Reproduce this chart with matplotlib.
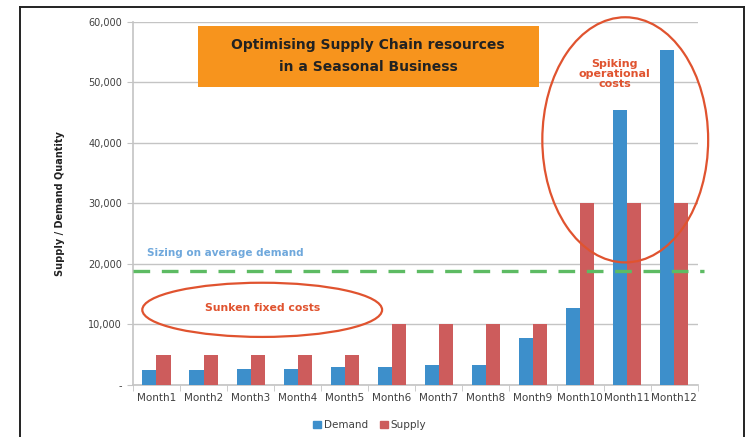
import numpy as np
import matplotlib
matplotlib.use('Agg')
import matplotlib.pyplot as plt
import matplotlib.patches as mpatches
from matplotlib.lines import Line2D
from matplotlib.ticker import FuncFormatter, MultipleLocator

# ── Data ─────────────────────────────────────────────────────────────────────
months = ['Month1', 'Month2', 'Month3', 'Month4', 'Month5', 'Month6',
          'Month7', 'Month8', 'Month9', 'Month10', 'Month11', 'Month12']
demand = [2500, 2500, 2600, 2600, 3000, 3000, 3300, 3300, 7800, 12800, 45500, 55300]
supply = [5000, 5000, 5000, 5000, 5000, 10000, 10000, 10000, 10000, 30000, 30000, 30000]
avg_sizing = 18900

BLUE = '#3D8FCB'
RED = '#CD5C5C'
ELLIPSE = '#E0532F'
GRID = '#C4C4C4'
TXT = '#404040'

fig = plt.figure(figsize=(7.47, 4.37), dpi=100)
ax = fig.add_axes([0.178, 0.119, 0.756, 0.831])

x = np.arange(len(months))
w = 0.3
ax.bar(x - w / 2, demand, w, color=BLUE, zorder=3)
ax.bar(x + w / 2, supply, w, color=RED, zorder=3)

ax.axhline(avg_sizing, xmin=0, xmax=1.012, color='#5DBB63', lw=2.4,
           dashes=(5, 3.5), zorder=4, clip_on=False)

ax.set_xlim(-0.5, 11.5)
ax.set_ylim(0, 60000)
ax.yaxis.set_major_locator(MultipleLocator(10000))
ax.yaxis.set_major_formatter(FuncFormatter(lambda v, p: '-' if v == 0 else f'{int(v):,}'))
ax.set_xticks(x)
ax.set_xticklabels(months, fontsize=7.5, color=TXT)
ax.set_xticks(np.arange(-0.5, 12, 1), minor=True)
ax.tick_params(axis='x', which='major', length=0, pad=6)
ax.tick_params(axis='x', which='minor', length=4, color=GRID)
ax.tick_params(axis='y', length=4, color=GRID, labelsize=7, labelcolor=TXT, pad=4)
ax.grid(axis='y', color=GRID, lw=1, zorder=0)
for s in ['top', 'right']:
    ax.spines[s].set_visible(False)
for s in ['left', 'bottom']:
    ax.spines[s].set_color(GRID)
    ax.spines[s].set_linewidth(1.2)

fig.text(0.080, 0.535, 'Supply / Demand Quantity', rotation=90, ha='center',
         va='center', fontsize=7, fontweight='bold', color='#222222')

# title box
fig.patches.append(mpatches.Rectangle((0.265, 0.801), 0.456, 0.140,
                                      transform=fig.transFigure,
                                      facecolor='#F7941D', edgecolor='none',
                                      zorder=5))
fig.text(0.493, 0.872, 'Optimising Supply Chain resources\nin a Seasonal Business',
         ha='center', va='center', fontsize=10, fontweight='bold',
         color='#222222', linespacing=1.75, zorder=6)

# annotations
fig.text(0.197, 0.421, 'Sizing on average demand', ha='left', va='center',
         fontsize=7.5, fontweight='bold', color='#6FA8DC')
fig.patches.append(mpatches.Ellipse((0.351, 0.291), 0.321, 0.124,
                                    transform=fig.transFigure, fill=False,
                                    edgecolor=ELLIPSE, lw=1.6, zorder=6))
fig.text(0.351, 0.295, 'Sunken fixed costs', ha='center', va='center',
         fontsize=7.8, fontweight='bold', color=ELLIPSE)
fig.patches.append(mpatches.Ellipse((0.837, 0.680), 0.222, 0.561,
                                    transform=fig.transFigure, fill=False,
                                    edgecolor=ELLIPSE, lw=1.6, zorder=6))
fig.text(0.823, 0.831, 'Spiking\noperational\ncosts', ha='center', va='center',
         fontsize=8, fontweight='bold', color=ELLIPSE, linespacing=1.0)

# legend
handles = [mpatches.Patch(color=BLUE, label='Demand'),
           mpatches.Patch(color=RED, label='Supply')]
fig.legend(handles=handles, loc='center', bbox_to_anchor=(0.495, 0.027), ncol=2,
           frameon=False, fontsize=7.5, handlelength=0.7, handleheight=0.7,
           handletextpad=0.3, columnspacing=1.2, labelcolor=TXT)

# outer frame
for xs, ys in [([0.027, 0.027], [0.0, 0.984]),
               ([0.027, 0.996], [0.984, 0.984]),
               ([0.996, 0.996], [0.0, 0.984])]:
    fig.add_artist(Line2D(xs, ys, transform=fig.transFigure, color='#222222', lw=1.4))

fig.savefig('out.png', dpi=100)
